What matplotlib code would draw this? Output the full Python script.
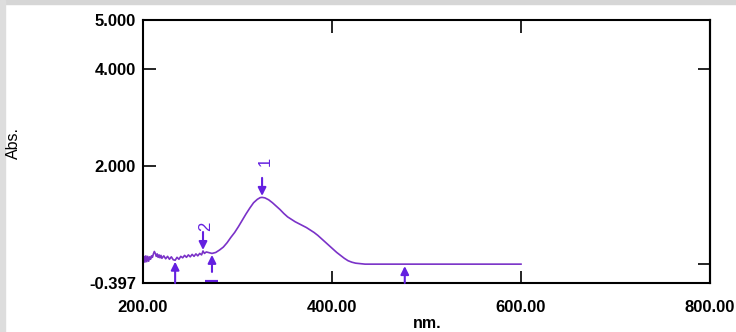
import matplotlib
matplotlib.use("Agg")
import matplotlib.pyplot as plt
from matplotlib.patches import Rectangle

# spectrum (nm, Abs.)
wavelength = [200, 201, 202, 203, 204, 205, 206, 207, 208, 209, 210, 211, 212, 213, 214,
              215, 216, 217, 218, 219, 220, 222, 224, 226, 228, 230, 232, 234, 236, 238,
              240, 242, 244, 246, 248, 250, 252, 254, 256, 258, 260, 262, 263.5, 265, 267,
              269, 271, 273, 277, 281, 285, 289, 293, 297, 301, 305, 309, 313, 317, 321,
              324, 326, 329, 333, 337, 341, 345, 349, 353, 357, 361, 365, 369, 373, 377,
              381, 385, 389, 393, 397, 401, 405, 409, 413, 417, 421, 425, 430, 435, 440,
              600]
absorb = [0.06, 0.15, 0.03, 0.16, 0.04, 0.15, 0.05, 0.14, 0.09, 0.16, 0.13, 0.20, 0.25, 0.21, 0.15,
          0.20, 0.13, 0.18, 0.12, 0.17, 0.11, 0.16, 0.10, 0.15, 0.09, 0.14, 0.08, 0.07, 0.13, 0.09,
          0.15, 0.12, 0.17, 0.13, 0.18, 0.14, 0.19, 0.15, 0.20, 0.16, 0.21, 0.18, 0.26, 0.21, 0.24,
          0.23, 0.22, 0.21, 0.23, 0.28, 0.34, 0.43, 0.54, 0.64, 0.76, 0.89, 1.02, 1.14, 1.25, 1.32,
          1.355, 1.36, 1.35, 1.31, 1.25, 1.18, 1.11, 1.03, 0.96, 0.91, 0.86, 0.82, 0.78, 0.74, 0.69,
          0.64, 0.58, 0.51, 0.44, 0.37, 0.30, 0.23, 0.17, 0.11, 0.06, 0.03, 0.01, 0.0, -0.01, -0.01,
          -0.01]

# picked peaks (label, nm, abs) and valleys (nm, arrow top, arrow bottom)
peak_labels = ["1", "2"]
peak_nm = [326, 263.5]
peak_abs = [1.36, 0.25]
valley_nm = [234, 273, 477]
valley_top = [0.04, 0.18, -0.05]
valley_bottom = [-0.397, -0.17, -0.397]

x_ticks = [200, 400, 600, 800]
x_labels = ["200.00", "400.00", "600.00", "800.00"]
y_ticks = [5.0, 4.0, 2.0, -0.397]
y_labels = ["5.000", "4.000", "2.000", "-0.397"]
right_ticks = [0.0, 4.0]

line_col = "#7a32c8"
arrow_col = "#6420e0"
arrow_props = dict(arrowstyle="-|>", color=arrow_col, lw=1.5, mutation_scale=12,
                   shrinkA=0, shrinkB=0)
label_gap = [0.74, 0.52]  # how far above the peak each number sits

fig = plt.figure(figsize=(7.36, 3.32), dpi=100)
ax = fig.add_axes([143 / 736, 1 - 283 / 332, 567 / 736, 263 / 332])

# the spectrum
ax.plot(wavelength, absorb, color=line_col, linewidth=1.2)

# peak arrows + labels
for lab, xp, yp, gap in zip(peak_labels, peak_nm, peak_abs, label_gap):
    ax.annotate("", xy=(xp, yp + 0.03), xytext=(xp, yp + 0.40), arrowprops=arrow_props)
    ax.text(xp + 3, yp + gap, lab, color=arrow_col, rotation=90, ha="center", va="center",
            fontsize=12, family="Liberation Sans")

# valley arrows
for xv, yt, yb in zip(valley_nm, valley_top, valley_bottom):
    ax.annotate("", xy=(xv, yt), xytext=(xv, yb), arrowprops=arrow_props)

# little baseline marker on the axis
ax.plot([266, 279], [-0.38, -0.38], color=arrow_col, linewidth=3, solid_capstyle="butt")

ax.set_xlim(200, 800)
ax.set_ylim(-0.397, 5.0)
ax.set_xticks(x_ticks, x_labels)
ax.set_yticks(y_ticks, y_labels)
ax.tick_params(direction="in", length=9, width=1.2, top=True, labelsize=12, colors="black")
ax.tick_params(axis="x", pad=12)
ax.tick_params(axis="y", pad=5)
for t in ax.get_xticklabels() + ax.get_yticklabels():
    t.set_fontweight("bold")
    t.set_family("Liberation Sans")
for s in ax.spines.values():
    s.set_linewidth(1.5)

sec = ax.secondary_yaxis("right")
sec.set_yticks(right_ticks, ["", ""])
sec.tick_params(direction="in", length=9, width=1.2)
sec.spines["right"].set_linewidth(1.5)

# axis titles
fig.text(13 / 736, 1 - 143 / 332, "Abs.", rotation=90, ha="center", va="center",
         fontsize=11.5, family="Liberation Sans")
fig.text(427 / 736, 1 / 332, "nm.", ha="center", va="bottom", fontsize=11.5,
         fontweight="bold", family="Liberation Sans")

# grey screenshot edges
fig.patches.append(Rectangle((0, 1 - 4 / 332), 1, 4 / 332, transform=fig.transFigure,
                             color="#d6d6d6", zorder=0))
fig.patches.append(Rectangle((0, 0), 5 / 736, 1, transform=fig.transFigure,
                             color="#dddddd", zorder=0))

fig.savefig("out.png", dpi=100)
